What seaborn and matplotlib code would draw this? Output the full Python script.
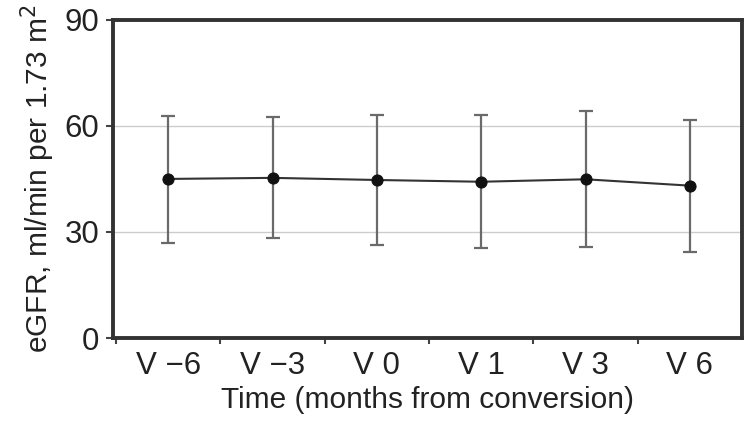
import numpy as np
import pandas as pd
import seaborn as sns
from matplotlib import pyplot as plt
from matplotlib.ticker import FixedLocator

# values
visits = ["V \u22126", "V \u22123", "V 0", "V 1", "V 3", "V 6"]
egfr_mean = [45.0, 45.3, 44.7, 44.2, 44.9, 43.1]
egfr_upper = [62.9, 62.5, 63.2, 63.0, 64.1, 61.7]
egfr_lower = [27.0, 28.4, 26.3, 25.5, 25.8, 24.4]
y_ticks = [0, 30, 60, 90]

sns.set_theme(style="white")
plt.rcParams["font.family"] = ["Liberation Sans", "DejaVu Sans"]

data = pd.DataFrame({"visit": visits, "egfr": egfr_mean})
data["pos"] = np.arange(len(visits))

fig = plt.figure(figsize=(7.48, 4.22), dpi=100)
ax = fig.add_axes([0.151, 0.199, 0.841, 0.754])

for y in [30, 60]:
    ax.axhline(y, color="#cccccc", lw=1, zorder=0)

lo = np.array(egfr_mean) - np.array(egfr_lower)
hi = np.array(egfr_upper) - np.array(egfr_mean)
ax.errorbar(data["pos"], data["egfr"], yerr=[lo, hi], fmt="none",
            ecolor="#6a6a6a", elinewidth=1.6, capsize=5, capthick=1.6, zorder=2)
sns.lineplot(data=data, x="pos", y="egfr", ax=ax, color="#333333", lw=1.5,
             marker="o", markersize=8, markerfacecolor="#111111",
             markeredgecolor="#111111", zorder=3)

ax.set_xlim(-0.53, 5.5)
ax.set_ylim(0, 90)
ax.set_yticks(y_ticks)
ax.set_xticks(data["pos"])
ax.set_xticklabels(visits)
ax.xaxis.set_minor_locator(FixedLocator(np.arange(-0.5, 5.0, 1.0)))
ax.tick_params(axis="x", which="major", length=0, pad=9, labelsize=22.5, colors="#222222")
ax.tick_params(axis="x", which="minor", bottom=True, length=4, width=1.5, color="#444444")
ax.tick_params(axis="y", left=True, length=5, width=1.5, color="#444444",
               labelsize=22.5, pad=5, colors="#222222")
for sp in ax.spines.values():
    sp.set_color("#333333")
    sp.set_linewidth(2.8)

ax.set_xlabel("Time (months from conversion)", fontsize=21.5, color="#222222", labelpad=4)
ax.set_ylabel("eGFR, ml/min per 1.73 m$^2$", fontsize=21.5, color="#222222", labelpad=5)

fig.savefig("out.png", dpi=100)
